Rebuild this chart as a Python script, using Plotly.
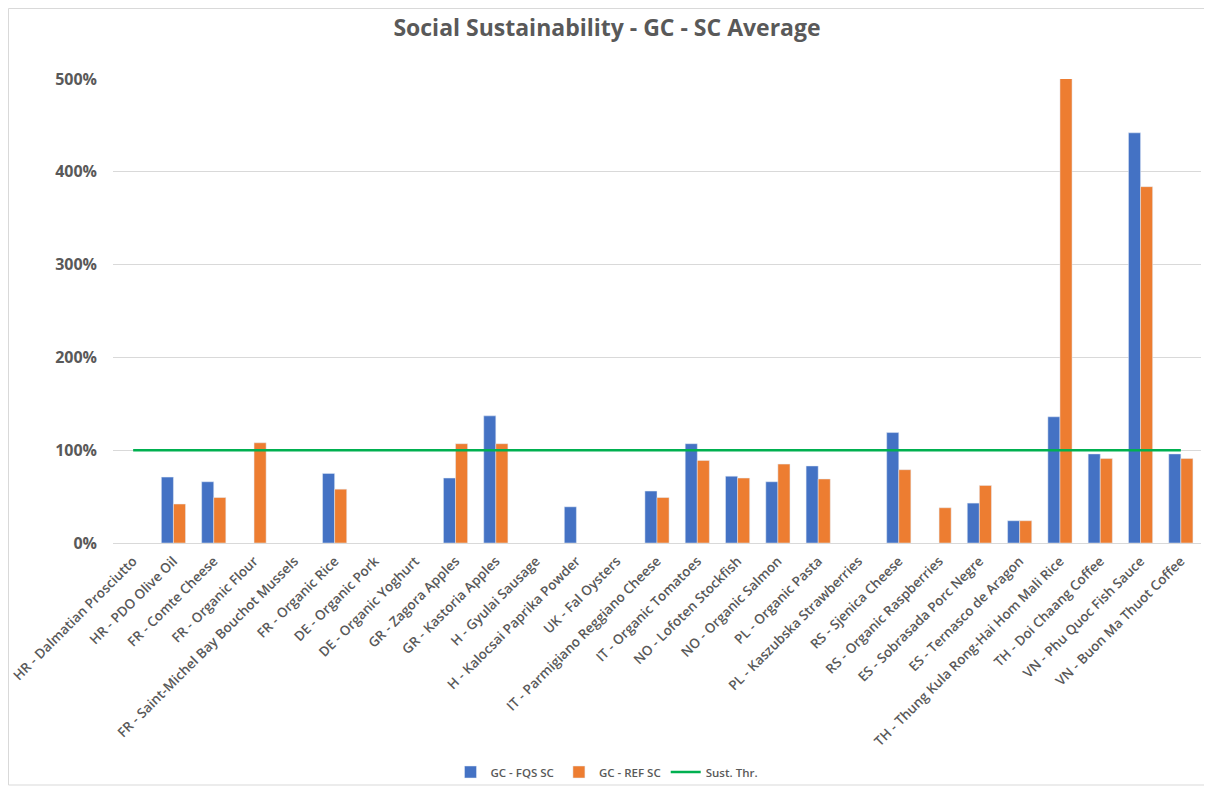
import plotly.graph_objects as go

# product categories (x axis)
products = [
    "HR - Dalmatian Prosciutto", "HR - PDO Olive Oil", "FR - Comte Cheese",
    "FR - Organic Flour", "FR - Saint-Michel Bay Bouchot Mussels", "FR - Organic Rice",
    "DE - Organic Pork", "DE - Organic Yoghurt", "GR - Zagora Apples",
    "GR - Kastoria Apples", "H - Gyulai Sausage", "H - Kalocsai Paprika Powder",
    "UK - Fal Oysters", "IT - Parmigiano Reggiano Cheese", "IT - Organic Tomatoes",
    "NO - Lofoten Stockfish", "NO - Organic Salmon", "PL - Organic Pasta",
    "PL - Kaszubska Strawberries", "RS - Sjenica Cheese", "RS - Organic Raspberries",
    "ES - Sobrasada Porc Negre", "ES - Ternasco de Aragon",
    "TH - Thung Kula Rong-Hai Hom Mali Rice", "TH - Doi Chaang Coffee",
    "VN - Phu Quoc Fish Sauce", "VN - Buon Ma Thuot Coffee",
]

# ratios (1.0 = 100%), None = no bar
fqs_sc = [None, 0.71, 0.66, None, None, 0.75, None, None, 0.70, 1.37, None, 0.39,
          None, 0.56, 1.07, 0.72, 0.66, 0.83, None, 1.19, None, 0.43, 0.24,
          1.36, 0.96, 4.42, 0.96]
ref_sc = [None, 0.42, 0.49, 1.08, None, 0.58, None, None, 1.07, 1.07, None, None,
          None, 0.49, 0.89, 0.70, 0.85, 0.69, None, 0.79, 0.38, 0.62, 0.24,
          5.02, 0.91, 3.84, 0.91]
sust_thr = [1.0] * len(products)

GRAY = "#595959"
FONT = "Open Sans"

fig = go.Figure()
fig.add_trace(go.Bar(x=products, y=fqs_sc, name="GC - FQS SC", marker_color="#4472C4"))
fig.add_trace(go.Bar(x=products, y=ref_sc, name="GC - REF SC", marker_color="#ED7D31"))
fig.add_trace(go.Scatter(x=products, y=sust_thr, name="Sust. Thr.", mode="lines",
                         line=dict(color="#00B050", width=2.5)))

# the page puts the figure 8px in from the window edge
OFF = 8
W, H = 1212, 792
L, R, T, B = 113 - OFF, 11 + OFF, 79 - OFF, 249 + OFF
pw, ph = W - L - R, H - T - B

fig.update_layout(
    width=W, height=H,
    margin=dict(l=L, r=R, t=T, b=B, autoexpand=False),
    paper_bgcolor="white", plot_bgcolor="white",
    font=dict(family=FONT, color=GRAY),
    title=dict(text="<b>Social Sustainability - GC - SC Average</b>",
               x=(607 - OFF) / W, xanchor="center", xref="container",
               y=1 - (28 - OFF) / H, yanchor="middle", yref="container",
               font=dict(size=23, color=GRAY, family=FONT)),
    barmode="group", bargap=0.4, bargroupgap=0,
    legend=dict(orientation="h", xref="container", x=(607 - OFF) / W, xanchor="center",
                y=(H - B - (772 - OFF)) / ph, yanchor="middle", bgcolor="rgba(0,0,0,0)",
                font=dict(size=11.5, color=GRAY, weight=600)),
    xaxis=dict(tickangle=-45, tickfont=dict(size=13.5, color=GRAY, weight=600),
               showline=True, linecolor="#D9D9D9", ticks="", automargin=False,
               ticklabelstandoff=4),
    yaxis=dict(range=[0, 5.0], tickvals=[0, 1, 2, 3, 4, 5], tickformat=".0%",
               tickfont=dict(size=16, color=GRAY, weight=700), showgrid=True,
               gridcolor="#D9D9D9", zeroline=False, ticks="", ticklabelstandoff=15,
               automargin=False),
    shapes=[dict(type="rect", xref="paper", yref="paper",
                 x0=(0.5 - L) / pw, x1=(1199 - L) / pw,
                 y0=(H - B - 777) / ph, y1=(H - B - 0.5) / ph,
                 line=dict(color="#D9D9D9", width=1))],
)

fig.write_html("out.html")
